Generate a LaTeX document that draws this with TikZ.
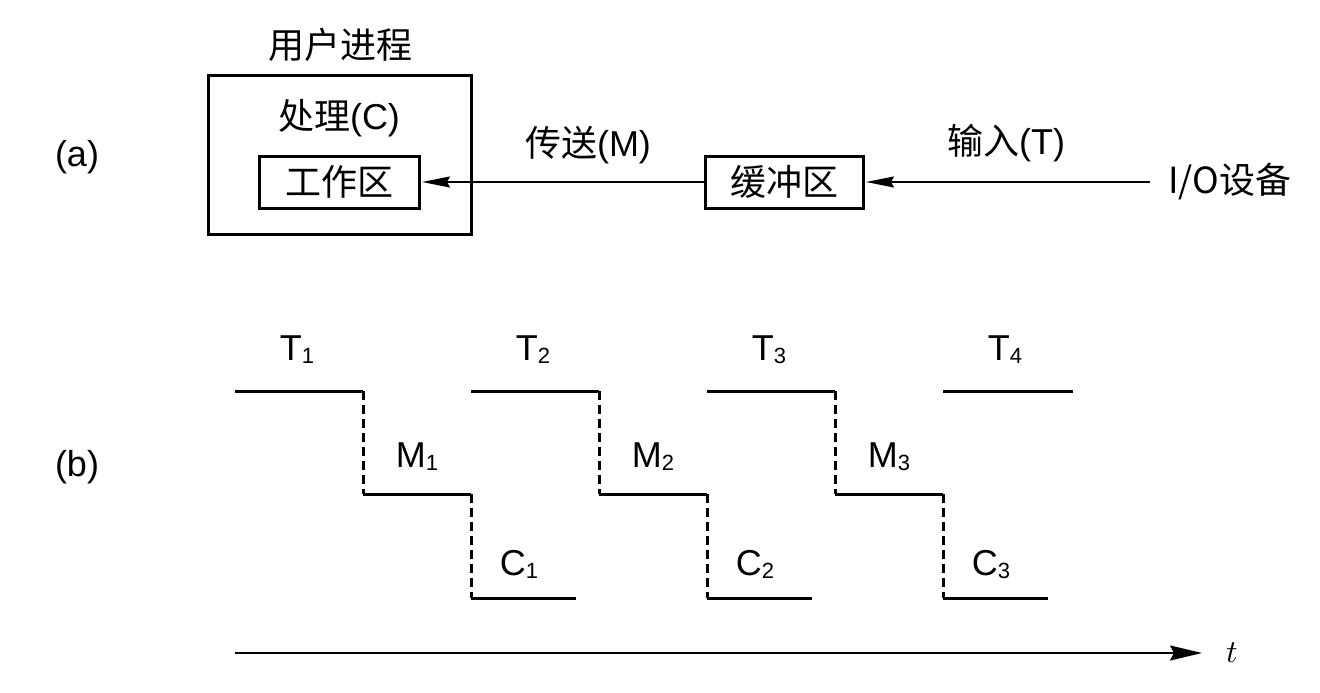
\documentclass[tikz,border=0pt]{standalone}
\usepackage{fontspec}
\setmainfont{Liberation Sans}
\newfontfamily\cjk{Noto Sans CJK SC}
\usetikzlibrary{arrows.meta}
\newcommand\mysub[1]{\raisebox{-3pt}{\fontsize{22}{22}\selectfont #1}}
\begin{document}
\begin{tikzpicture}[x=1pt,y=-1pt,
  lbl/.style={font=\fontsize{36}{40}\selectfont, inner sep=0pt},
  boxed/.style={draw, line width=3pt, inner sep=0pt, font=\fontsize{36}{40}\selectfont},
  conn/.style={line width=1.5pt, -{Stealth[length=28pt,width=11pt,inset=3pt]}, shorten >=1.5pt},
  stepline/.style={line width=3pt},
  dashline/.style={line width=3pt, dash pattern=on 9pt off 5pt},
  axisline/.style={line width=2pt, -{Stealth[length=32pt,width=15pt,inset=4pt]}}]
\path[use as bounding box] (0,0) rectangle (1320,693);
% (a)
\node[boxed, minimum width=263pt, minimum height=158pt] (proc) at (339.5,155) {};
\node[lbl] (proct) at (340,45) {\cjk 用户进程};
\node[lbl] (chl) at (339,118) {{\cjk 处理}(C)};
\node[boxed, minimum width=160pt, minimum height=52pt] (ws) at (339,182) {\cjk 工作区};
\node[boxed, minimum width=158pt, minimum height=52pt] (buf) at (784,182) {\cjk 缓冲区};
\node[lbl, anchor=west, inner xsep=18pt] (io) at (1150,182) {\cjk I/O设备};
\draw[conn] (io.west) -- (buf.east);
\draw[conn] (buf.west) -- (ws.east);
\node[lbl] (lm) at (588,145) {{\cjk 传送}(M)};
\node[lbl] (lt) at (1006,143) {{\cjk 输入}(T)};
\node[lbl] (la) at (77,157) {(a)};
\node[lbl] (lb) at (77,467) {(b)};
% (b)
\foreach \k/\n in {0/1,1/2,2/3}{
  \begin{scope}[xshift={\k*236pt}]
    \draw[stepline] (235,391) -- (363,391);
    \draw[dashline] (363,391) -- (363,494);
    \draw[stepline] (363,494) -- (471,494);
    \draw[dashline] (471,494) -- (471,598);
    \draw[stepline] (471,598) -- (576,598);
    \node[lbl, anchor=base] (T\n) at (297,360) {T\mysub{\n}};
    \node[lbl, anchor=base] (M\n) at (417,467) {M\mysub{\n}};
    \node[lbl, anchor=base] (C\n) at (519,575) {C\mysub{\n}};
  \end{scope}
}
\draw[stepline] (943,391) -- (1073,391);
\node[lbl, anchor=base] (T4) at (1005,360) {T\mysub{4}};
% time axis
\coordinate (t0) at (235,653);
\coordinate (t1) at (1202,653);
\node[inner sep=0pt, scale=3.2] (tl) at (1232,653) {$t$};
\draw[axisline] (t0) -- (t1);
\end{tikzpicture}
\end{document}
